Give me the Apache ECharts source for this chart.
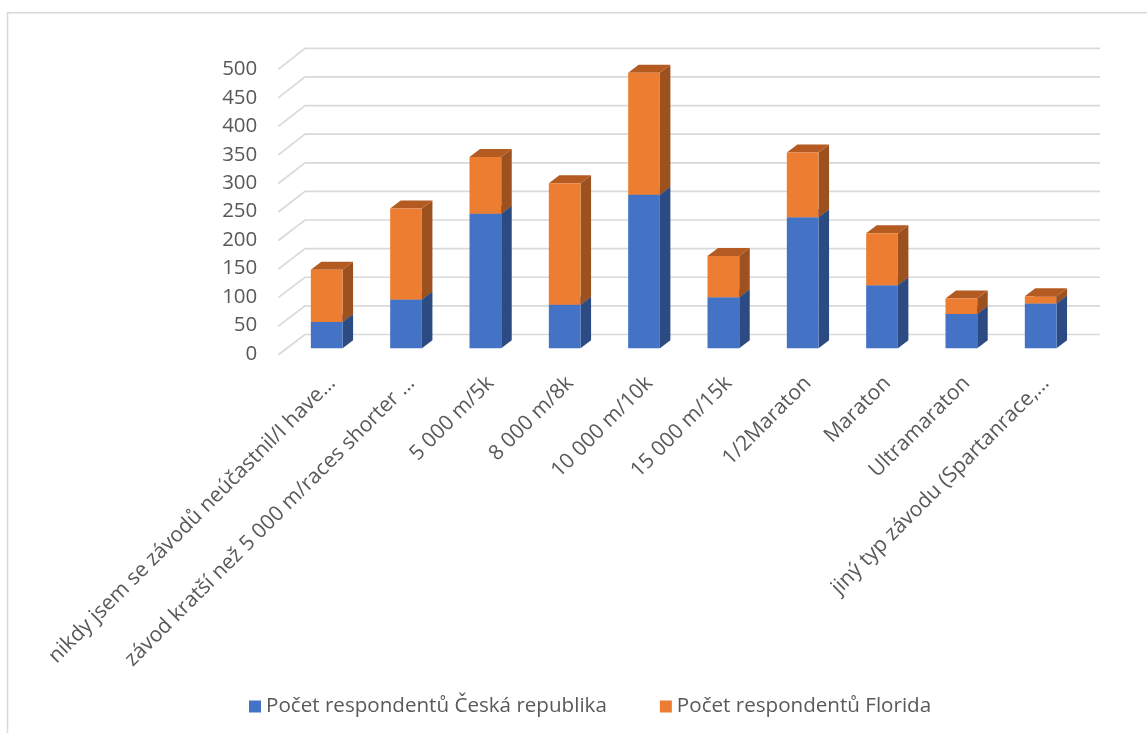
<!DOCTYPE html>
<html>
<head>
<meta charset="utf-8">
<script src="https://cdn.jsdelivr.net/npm/echarts@6/dist/echarts.min.js"></script>
<style>
  html, body { margin: 0; padding: 0; background: #fff; }
  #chart { width: 1147px; height: 733px; }
</style>
</head>
<body>
<div id="chart"></div>
<script>
// Race categories on the x axis
var categories = [
  'nikdy jsem se závodů neúčastnil/I have…',
  'závod kratší než 5 000 m/races shorter …',
  '5 000 m/5k',
  '8 000 m/8k',
  '10 000 m/10k',
  '15 000 m/15k',
  '1/2Maraton',
  'Maraton',
  'Ultramaraton',
  'jiný typ závodu (Spartanrace,…'
];

// Respondent counts per category
var czechValues   = [46, 85, 235, 76, 268, 89, 229, 110, 60, 78];
var floridaValues = [91, 159, 99, 212, 213, 72, 113, 91, 27, 13];

// Value axis ticks (also used for the back-wall grid lines)
var valueTicks = [0, 50, 100, 150, 200, 250, 300, 350, 400, 450, 500];

var seriesNames = ['Počet respondentů Česká republika', 'Počet respondentů Florida'];

var FONT = '"Open Sans", "Liberation Sans", sans-serif';
var TEXT = '#595959';

// 3D geometry of the drawing (pixels)
var DEPTH_X = 10.5, DEPTH_Y = 8;         // bar side/top depth
var BAR_PLANE = -5.7, BAR_SCALE = 1.006; // bar plane relative to the axis plane
var WALL_DX = 26.7, WALL_DY = -19.5;     // back wall relative to the axis plane
var FRONT_X = -14;                       // where the floor diagonals start

var palettes = [
  { front: '#4472C4', side: '#2B4B82', top: '#3A63AC' },
  { front: '#ED7D31', side: '#9C511F', top: '#B45B22' }
];

function barRenderer(pal) {
  return function (params, api) {
    var i = api.value(0);
    var base = api.value(1), top = api.value(2);
    var p0 = api.coord([i, 0]);
    var pb = api.coord([i, base]);
    var pt = api.coord([i, top]);
    var band = api.size([1, 0])[0];
    var w = band * 0.4;
    var zeroY = p0[1] + BAR_PLANE;
    var yb = zeroY - (p0[1] - pb[1]) * BAR_SCALE;
    var yt = zeroY - (p0[1] - pt[1]) * BAR_SCALE;
    var x0 = p0[0] - (w + DEPTH_X) / 2;
    var x1 = x0 + w;
    return {
      type: 'group',
      children: [
        { type: 'polygon', shape: { points: [[x1, yb], [x1 + DEPTH_X, yb - DEPTH_Y], [x1 + DEPTH_X, yt - DEPTH_Y], [x1, yt]] },
          style: { fill: pal.side } },
        { type: 'polygon', shape: { points: [[x0, yt], [x1, yt], [x1 + DEPTH_X, yt - DEPTH_Y], [x0 + DEPTH_X, yt - DEPTH_Y]] },
          style: { fill: pal.top } },
        { type: 'rect', shape: { x: x0, y: yt, width: w, height: yb - yt },
          style: { fill: pal.front } }
      ]
    };
  };
}

var chart = echarts.init(document.getElementById('chart'), null, { renderer: 'canvas' });

var option = {
  backgroundColor: '#ffffff',
  animation: false,
  textStyle: { fontFamily: FONT },
  graphic: [{
    type: 'rect',
    shape: { x: 7.5, y: 12.7, width: 1300, height: 900 },
    style: { fill: 'none', stroke: '#d9d9d9', lineWidth: 1.5 },
    silent: true
  }],
  grid: { left: 292.3, right: 61.4, top: 69.3, bottom: 379 },
  legend: {
    data: seriesNames,
    left: 244,
    top: 691,
    icon: 'rect',
    itemWidth: 12,
    itemHeight: 12,
    itemGap: 53,
    textStyle: { fontFamily: FONT, fontSize: 20.6, color: TEXT }
  },
  xAxis: {
    type: 'category',
    data: categories,
    axisLine: { show: false },
    axisTick: { show: false },
    splitLine: { show: false },
    axisLabel: {
      interval: 0,
      rotate: 45,
      margin: 26,
      fontFamily: FONT,
      fontSize: 21,
      color: TEXT
    }
  },
  yAxis: {
    type: 'value',
    min: 0,
    max: 500,
    interval: 50,
    axisLine: { show: false },
    axisTick: { show: false },
    splitLine: { show: false },
    axisLabel: { margin: 35, fontFamily: FONT, fontSize: 20.5, color: TEXT }
  },
  series: [
    {
      type: 'custom',
      name: 'wall',
      silent: true,
      z: 1,
      renderItem: function (params, api) {
        var v = api.value(1);
        var p = api.coord([0, v]);
        var cs = params.coordSys;
        var k = v / 500;
        var yf = p[1] + 0.7 * (1 - k);
        var yw = p[1] + WALL_DY - 1.5 * k;
        var xf = cs.x + FRONT_X;
        var xw = cs.x + WALL_DX + FRONT_X;
        var xr = cs.x + cs.width + 14.4;
        return {
          type: 'polyline',
          shape: { points: [[xf, yf], [xw, yw], [xr, yw]] },
          style: { stroke: '#d9d9d9', lineWidth: 1.7, fill: null }
        };
      },
      data: valueTicks.map(function (v) { return [0, v]; })
    },
    {
      type: 'custom',
      name: seriesNames[0],
      z: 2,
      itemStyle: { color: palettes[0].front },
      renderItem: barRenderer(palettes[0]),
      encode: { x: 0, y: [1, 2] },
      data: czechValues.map(function (v, i) { return [i, 0, v]; })
    },
    {
      type: 'custom',
      name: seriesNames[1],
      z: 3,
      itemStyle: { color: palettes[1].front },
      renderItem: barRenderer(palettes[1]),
      encode: { x: 0, y: [1, 2] },
      data: floridaValues.map(function (v, i) { return [i, czechValues[i], czechValues[i] + v]; })
    }
  ]
};

chart.setOption(option);
</script>
</body>
</html>
